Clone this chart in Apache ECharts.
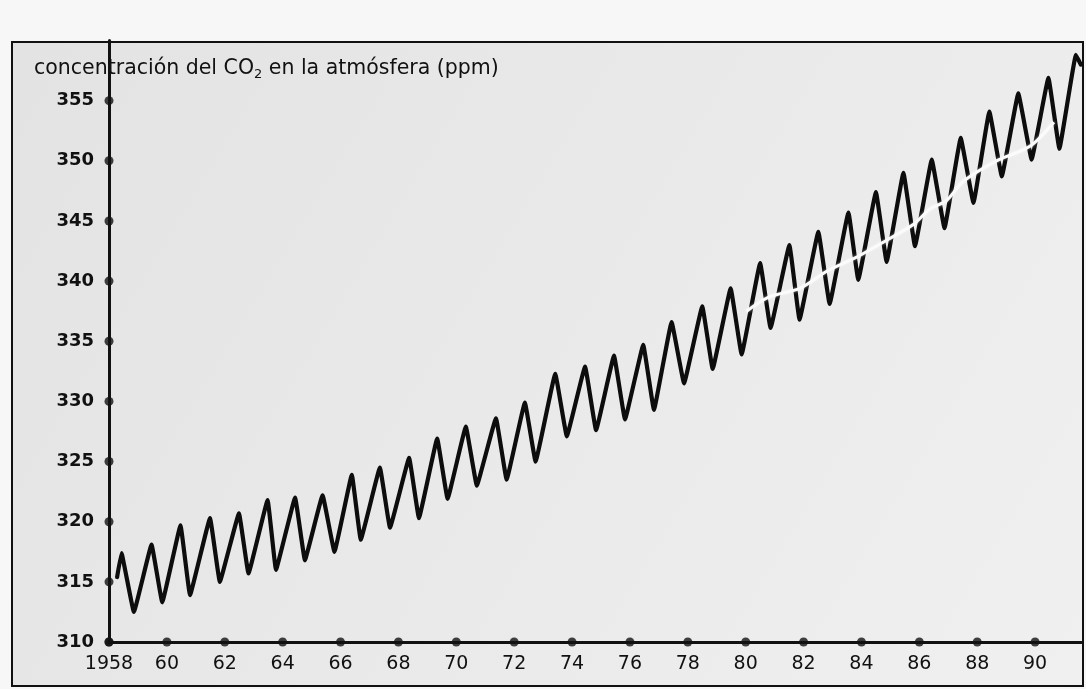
<!DOCTYPE html>
<html>
<head>
<meta charset="utf-8">
<script src="https://cdn.jsdelivr.net/npm/echarts@6/dist/echarts.min.js"></script>
<style>
html,body{margin:0;padding:0;background:#f7f7f7;}
#chart{width:1086px;height:689px;}
</style>
</head>
<body>
<div id="chart"></div>
<script>
// Monthly cycle read as turning points (decimal year, ppm)
const co2Years = [1958.28,1958.43,1958.86,1959.47,1959.84,1960.47,1960.80,1961.49,1961.83,1962.49,
  1962.82,1963.48,1963.77,1964.43,1964.77,1965.38,1965.79,1966.39,1966.70,1967.36,
  1967.71,1968.37,1968.71,1969.34,1969.70,1970.33,1970.71,1971.37,1971.74,1972.37,
  1972.74,1973.42,1973.82,1974.45,1974.83,1975.45,1975.83,1976.46,1976.83,1977.44,
  1977.87,1978.50,1978.86,1979.48,1979.86,1980.50,1980.86,1981.51,1981.86,1982.51,
  1982.90,1983.55,1983.89,1984.50,1984.87,1985.45,1985.85,1986.43,1986.87,1987.43,
  1987.87,1988.42,1988.85,1989.42,1989.88,1990.46,1990.84,1991.41,1991.58];
const co2Ppm = [315.4,317.4,312.5,318.1,313.3,319.7,313.9,320.3,315.0,320.7,
  315.7,321.8,316.0,322.0,316.8,322.2,317.5,323.9,318.5,324.5,
  319.5,325.3,320.3,326.9,321.9,327.9,323.0,328.6,323.5,329.9,
  325.0,332.3,327.1,332.9,327.6,333.8,328.5,334.7,329.3,336.6,
  331.5,337.9,332.7,339.4,333.9,341.5,336.1,343.0,336.8,344.1,
  338.1,345.7,340.1,347.4,341.6,349.0,342.9,350.1,344.4,351.9,
  346.5,354.1,348.7,355.6,350.1,356.9,351.0,358.8,358.0];
// White trend line (1980-1990)
const trendYears = [1980.03,1980.83,1981.87,1982.86,1983.84,1984.87,1985.79,1986.37,1986.94,1987.52,1988.67,1989.82,1990.65];
const trendPpm   = [337.5,338.7,339.4,340.9,342.0,343.4,344.7,346.0,346.7,348.3,350.0,351.2,353.2];

const xTickValues = [1958,1960,1962,1964,1966,1968,1970,1972,1974,1976,1978,1980,1982,1984,1986,1988,1990];
const xTickLabels = ["1958","60","62","64","66","68","70","72","74","76","78","80","82","84","86","88","90"];
const yTickValues = [310,315,320,325,330,335,340,345,350,355];
const yTickLabels = ["310","315","320","325","330","335","340","345","350","355"];

const titleParts = ["concentración del CO", "2", " en la atmósfera (ppm)"];

const co2Data = co2Years.map((y,i)=>[y,co2Ppm[i]]);
const trendData = trendYears.map((y,i)=>[y,trendPpm[i]]);
const xDots = xTickValues.map(v=>[v,yTickValues[0]]);
const yDots = yTickValues.map(v=>[xTickValues[0],v]);

const chart = echarts.init(document.getElementById('chart'), null, {renderer:'canvas'});
const FONT = '"DejaVu Sans", sans-serif';
chart.setOption({
  animation:false,
  backgroundColor:'#f7f7f7',
  title:{
    left:29, top:51,
    text:'{a|'+titleParts[0]+'}{s|'+titleParts[1]+'}{a|'+titleParts[2]+'}',
    textStyle:{
      rich:{
        a:{fontFamily:FONT,fontSize:20.5,color:'#111',fontWeight:'normal'},
        s:{fontFamily:FONT,fontSize:13,color:'#111',fontWeight:'normal',padding:[12,0,0,0]}
      }
    }
  },
  graphic:[{
    type:'rect', z:-10, silent:true,
    shape:{x:12,y:42,width:1071,height:644},
    style:{
      fill:new echarts.graphic.LinearGradient(0,0,1,1,[
        {offset:0,color:'#e3e3e3'},{offset:1,color:'#f0f0f0'}]),
      stroke:'#111', lineWidth:2
    }
  }],
  grid:{left:109,right:4.6,top:40.5,bottom:47,containLabel:false},
  xAxis:{
    type:'value', min:1958, max:1991.6, interval:2,
    axisLine:{show:true,onZero:false,lineStyle:{color:'#111',width:3}},
    axisTick:{show:false}, splitLine:{show:false},
    axisLabel:{
      margin:13, color:'#111', fontFamily:FONT, fontSize:19,
      formatter:v=>{const i=xTickValues.indexOf(Math.round(v*100)/100);return i>=0?xTickLabels[i]:'';}
    }
  },
  yAxis:{
    type:'value', min:310, max:360, interval:5,
    axisLine:{show:true,onZero:false,lineStyle:{color:'#111',width:3}},
    axisTick:{show:false}, splitLine:{show:false},
    axisLabel:{
      margin:15, color:'#111', fontFamily:FONT, fontSize:18, fontWeight:'bold',
      formatter:v=>{const i=yTickValues.indexOf(v);return i>=0?yTickLabels[i]:'';}
    }
  },
  series:[
    {type:'line', data:co2Data, symbol:'none', smooth:0.07, z:3,
     lineStyle:{color:'#0d0d0d',width:4.2,join:'round',cap:'round'}},
    {type:'line', data:trendData, symbol:'none', smooth:0.3, z:4,
     lineStyle:{color:'#fbfbfb',width:3,shadowColor:'rgba(255,255,255,0.6)',shadowBlur:3}},
    {type:'scatter', data:xDots.concat(yDots), symbol:'circle', symbolSize:9, clip:false, z:5,
     itemStyle:{color:'#111'}}
  ]
});
</script>
</body>
</html>
